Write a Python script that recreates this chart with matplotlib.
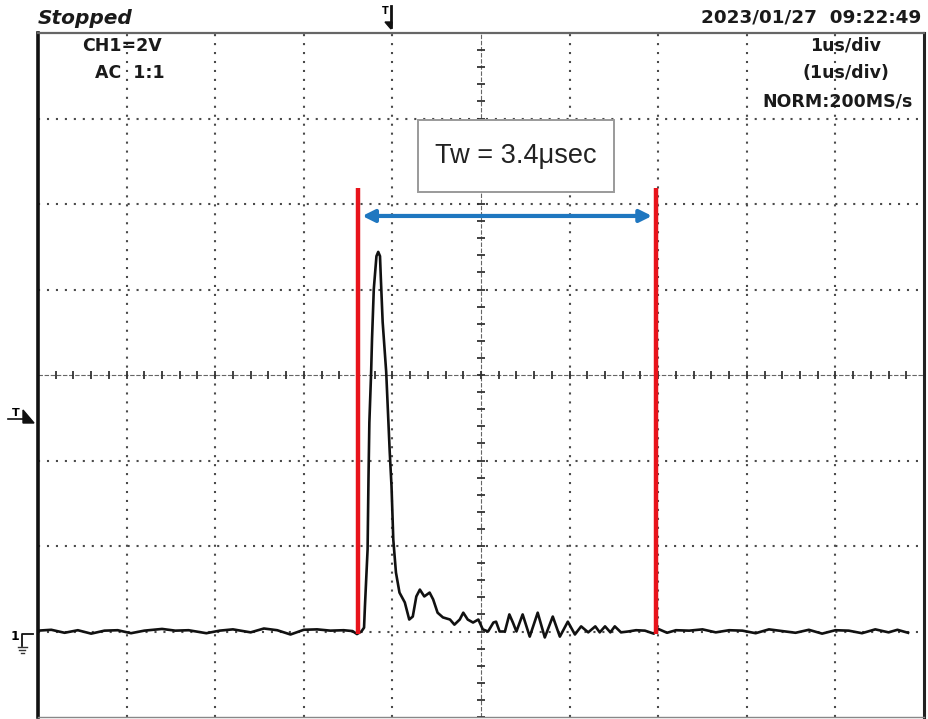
import numpy as np
import matplotlib
matplotlib.use("Agg")
import matplotlib.pyplot as plt
from matplotlib.lines import Line2D
from matplotlib.patches import Polygon, Rectangle

# scope settings
volts_per_div = 2.0
us_per_div = 1.0
header_left = "Stopped"
header_date = "2023/01/27  09:22:49"
ch_label = "CH1=2V"
coupling_label = "AC  1:1"
timebase_labels = ["1us/div", "(1us/div)"]
mode_label = "NORM:200MS/s"
width_label = "Tw = 3.4\u03bcsec"

# CH1 trace, time in us (0 = screen centre), volts above ground
trace_t = [-5.00, -4.85, -4.70, -4.55, -4.40, -4.25, -4.10, -3.95, -3.80, -3.60,
           -3.45, -3.30, -3.10, -2.95, -2.80, -2.60, -2.45, -2.30, -2.15, -2.00,
           -1.85, -1.70, -1.55, -1.45, -1.40, -1.35,
           -1.32, -1.31, -1.28, -1.27, -1.26, -1.24, -1.23, -1.21, -1.18, -1.16,
           -1.14, -1.13, -1.11, -1.07, -1.05, -1.03, -1.01, -0.99, -0.96, -0.92,
           -0.86, -0.81, -0.77, -0.73, -0.69, -0.64, -0.58, -0.54, -0.49, -0.43,
           -0.35, -0.30, -0.24, -0.20, -0.15, -0.09, -0.03, 0.02, 0.08, 0.14,
           0.17, 0.21, 0.27, 0.32, 0.36, 0.40, 0.47, 0.55, 0.64, 0.72,
           0.81, 0.89, 0.98, 1.06, 1.13, 1.21, 1.29, 1.34, 1.40, 1.46,
           1.51, 1.58, 1.66, 1.75, 1.85, 1.95, 2.00, 2.10, 2.20, 2.35,
           2.50, 2.65, 2.80, 2.95, 3.10, 3.25, 3.40, 3.55, 3.70, 3.85,
           4.00, 4.15, 4.30, 4.45, 4.60, 4.70, 4.82]
trace_v = [0.02, 0.04, -0.03, 0.03, -0.05, 0.02, 0.03, -0.04, 0.02, 0.06,
           0.02, 0.03, -0.04, 0.02, 0.05, -0.02, 0.07, 0.03, -0.07, 0.04,
           0.05, 0.02, 0.03, 0.01, -0.06, 0.00,
           0.09, 0.59, 1.92, 3.56, 4.89, 6.07, 6.84, 8.01, 8.78, 8.88,
           8.78, 8.24, 7.24, 6.07, 5.13, 4.19, 3.40, 2.15, 1.38, 0.91,
           0.68, 0.28, 0.35, 0.82, 0.98, 0.82, 0.91, 0.75, 0.44, 0.33,
           0.28, 0.16, 0.28, 0.44, 0.28, 0.21, 0.28, 0.05, 0.00, 0.21,
           0.23, 0.00, 0.00, 0.40, 0.21, 0.00, 0.40, -0.12, 0.44, -0.14,
           0.35, -0.12, 0.23, -0.07, 0.12, -0.02, 0.12, -0.02, 0.12, -0.02,
           0.12, -0.02, 0.00, 0.03, 0.02, -0.05, 0.06, -0.03, 0.03, 0.02,
           0.05, -0.02, 0.03, 0.02, -0.04, 0.05, 0.01, -0.03, 0.04, -0.05,
           0.03, 0.02, -0.04, 0.05, -0.02, 0.04, -0.03]

# pulse width cursors (us)
cursor_t = [-1.39, 1.97]

W, H = 929, 719
fig = plt.figure(figsize=(W / 100, H / 100), dpi=100)
ax = fig.add_axes([38 / W, 2 / H, 886 / W, 684 / H])
ax.set_xlim(-5 * us_per_div, 5 * us_per_div)
ax.set_ylim(-1 * volts_per_div, 7 * volts_per_div)
ax.set_xticks([])
ax.set_yticks([])
centre_v = 3 * volts_per_div

# dotted graticule
grid_col = "#4a4a4a"
for k in range(-4, 5):
    if k != 0:
        ax.axvline(k * us_per_div, color=grid_col, lw=1.5, ls=(0, (1, 3.3)), zorder=1)
for k in [0, 1, 2, 4, 5, 6]:
    ax.axhline(k * volts_per_div, color=grid_col, lw=1.5, ls=(0, (1, 3.3)), zorder=1)

# centre graticule with minor ticks
ax.axhline(centre_v, color="#666666", lw=0.8, ls=(0, (4, 1.5)), zorder=1)
ax.axvline(0, color="#666666", lw=0.8, ls=(0, (4, 1.5)), zorder=1)
minor_t = np.arange(-5, 5.01, 0.2) * us_per_div
minor_v = np.arange(-1, 7.01, 0.2) * volts_per_div
ax.plot(minor_t, np.full_like(minor_t, centre_v), ls="none", marker="|",
        ms=6, mew=1.3, color="#333333", zorder=1)
ax.plot(np.zeros_like(minor_v), minor_v, ls="none", marker="_",
        ms=6, mew=1.3, color="#333333", zorder=1)

# trace
ax.plot(trace_t, trace_v, color="#111111", lw=1.9, zorder=3)

# cursors and width arrow
for ct in cursor_t:
    ax.plot([ct, ct], [-0.06, 10.37], color="#e8131b", lw=3.2, zorder=4,
            solid_capstyle="butt")
ax.annotate("", xy=(cursor_t[1] - 0.04, 9.72), xytext=(cursor_t[0] + 0.05, 9.72),
            arrowprops=dict(arrowstyle="<|-|>", color="#1f77c0", lw=3,
                            mutation_scale=18, shrinkA=0, shrinkB=0), zorder=4)
ax.add_patch(Rectangle((-0.71, 10.28), 2.21, 1.68, facecolor="white",
                       edgecolor="#9a9a9a", lw=1.4, zorder=4))
ax.text(0.395, 11.12, width_label, ha="center", va="center", fontsize=19.5,
        family="Liberation Sans", color="#222222", zorder=5)

# frame
for side, lw, col in [("left", 2.6, "#111111"), ("right", 2.2, "#222222"),
                      ("top", 1.6, "#666666"), ("bottom", 1.0, "#888888")]:
    ax.spines[side].set_linewidth(lw)
    ax.spines[side].set_color(col)

# screen texts
def px(x, y):
    return x / W, 1 - y / H

fig.text(*px(82, 46), ch_label, ha="left", va="center",
         fontsize=12.5, fontweight="bold", color="#1a1a1a")
fig.text(*px(95, 73), coupling_label, ha="left", va="center",
         fontsize=12.5, fontweight="bold", color="#1a1a1a")
fig.text(*px(846, 46), timebase_labels[0], ha="center",
         va="center", fontsize=12.5, fontweight="bold", color="#1a1a1a")
fig.text(*px(846, 73), timebase_labels[1], ha="center",
         va="center", fontsize=12.5, fontweight="bold", color="#1a1a1a")
fig.text(*px(913, 101), mode_label, ha="right",
         va="center", fontsize=12.5, fontweight="bold", color="#1a1a1a")
fig.text(*px(38, 18), header_left, ha="left", va="center", fontsize=14.5,
         fontweight="bold", fontstyle="italic", color="#1a1a1a")
fig.text(*px(921, 18), header_date, ha="right", va="center", fontsize=13.2,
         fontweight="bold", color="#1a1a1a")

# trigger position marker (top)
fig.text(*px(385, 11), "T", ha="center", va="center", fontsize=7, fontweight="bold")
fig.add_artist(Line2D([391 / W, 391 / W], [1 - 6 / H, 1 - 27 / H],
                      transform=fig.transFigure, color="#111111", lw=2))
fig.add_artist(Polygon([px(385, 22), px(392, 22), px(391, 29)], closed=True,
                       transform=fig.transFigure, color="#111111"))

# trigger level marker (left)
fig.text(*px(16, 413), "T", ha="center", va="center", fontsize=8, fontweight="bold")
fig.add_artist(Line2D([8 / W, 24 / W], [1 - 419 / H, 1 - 419 / H],
                      transform=fig.transFigure, color="#111111", lw=1.2))
fig.add_artist(Polygon([px(23, 410), px(34, 423), px(23, 423)], closed=True,
                       transform=fig.transFigure, color="#111111"))

# ground marker
fig.text(*px(15, 637), "1", ha="center", va="center", fontsize=9, fontweight="bold")
fig.add_artist(Line2D([33 / W, 22 / W, 22 / W], [1 - 634 / H, 1 - 634 / H, 1 - 646 / H],
                      transform=fig.transFigure, color="#111111", lw=1.3))
for yy, x0, x1 in [(647, 18, 27), (650, 19.5, 25.5), (653, 21, 24)]:
    fig.add_artist(Line2D([x0 / W, x1 / W], [1 - yy / H, 1 - yy / H],
                          transform=fig.transFigure, color="#333333", lw=1))

fig.savefig("out.png", dpi=100)
